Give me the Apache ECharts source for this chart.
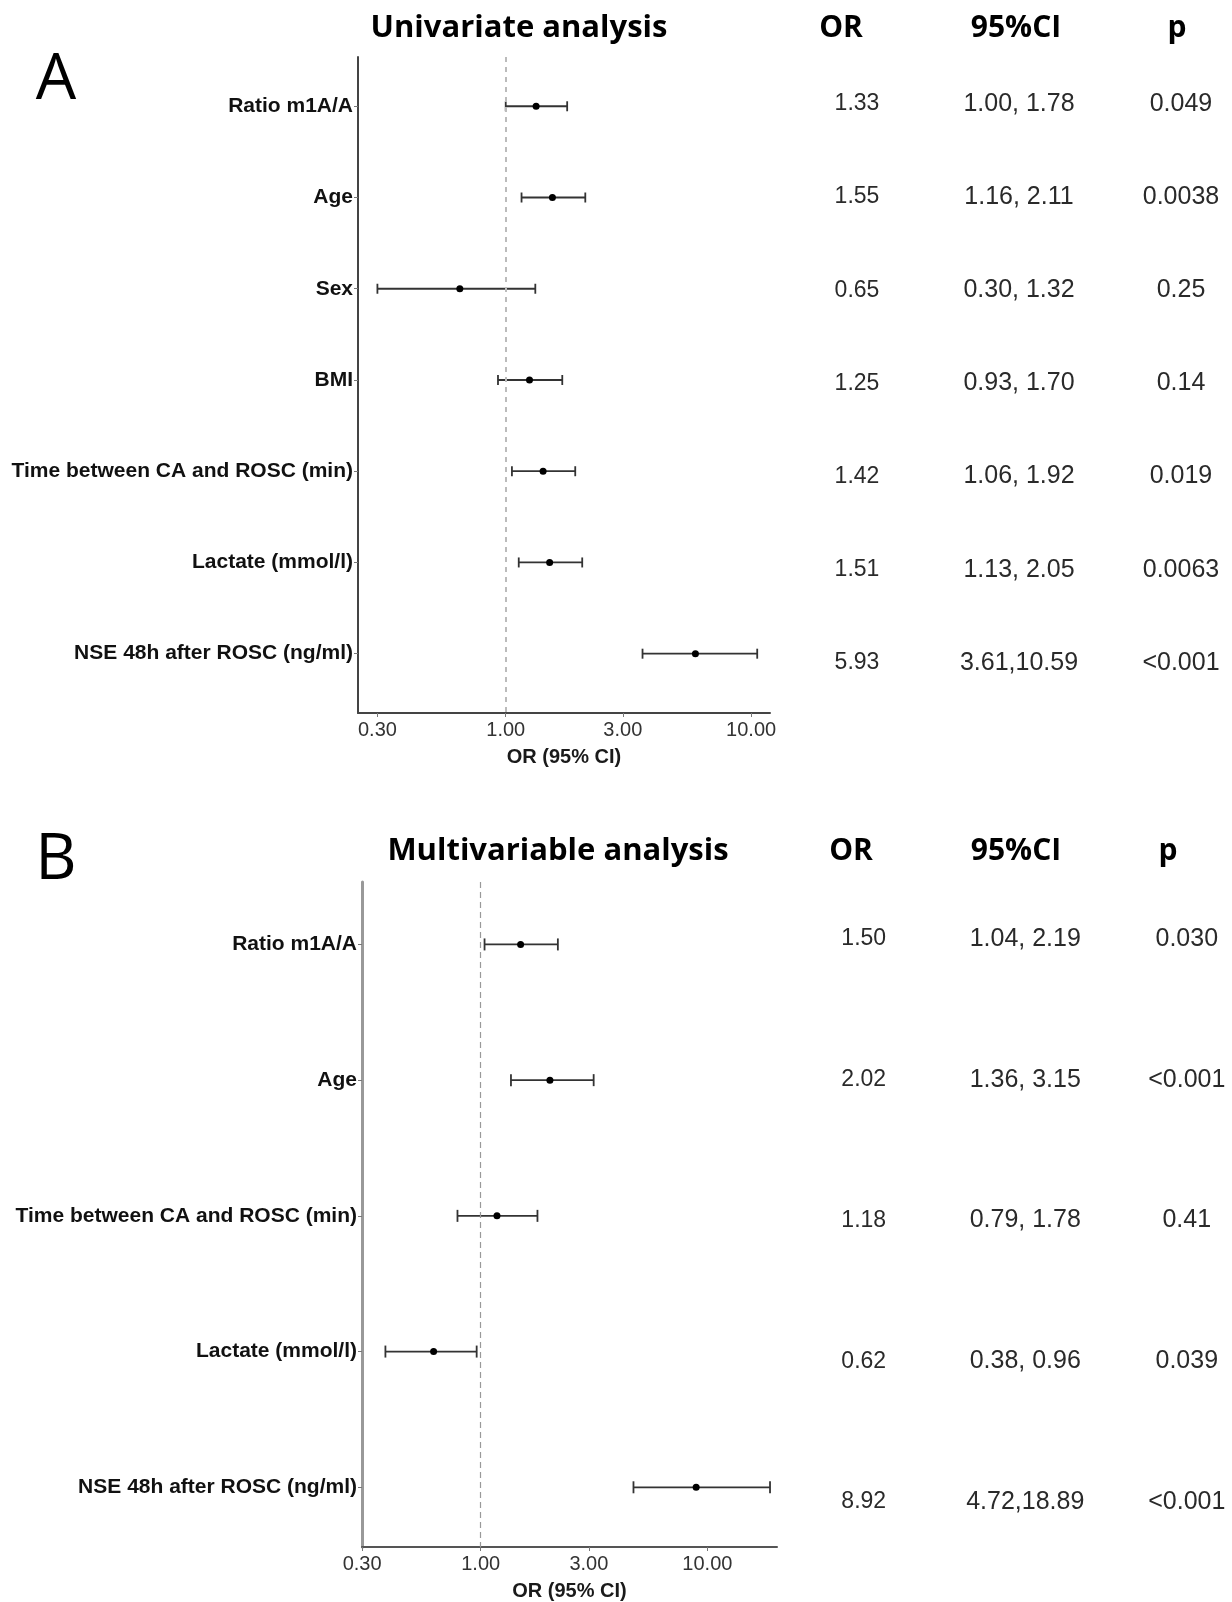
<!DOCTYPE html>
<html><head><meta charset="utf-8">
<script src="https://cdn.jsdelivr.net/npm/echarts@6/dist/echarts.min.js"></script>
<style>html,body{margin:0;padding:0;background:#fff}#c{width:1232px;height:1602px}</style>
</head><body><div id="c"></div>
<script>
// ---------- Panel A: univariate ----------
const labelsA = ['Ratio m1A/A','Age','Sex','BMI','Time between CA and ROSC (min)','Lactate (mmol/l)','NSE 48h after ROSC (ng/ml)'];
const orA = [1.33, 1.55, 0.65, 1.25, 1.42, 1.51, 5.93];
const loA = [1.00, 1.16, 0.30, 0.93, 1.06, 1.13, 3.61];
const hiA = [1.78, 2.11, 1.32, 1.70, 1.92, 2.05, 10.59];
const ciTextA = ['1.00, 1.78','1.16, 2.11','0.30, 1.32','0.93, 1.70','1.06, 1.92','1.13, 2.05','3.61,10.59'];
const pA = ['0.049','0.0038','0.25','0.14','0.019','0.0063','<0.001'];

// ---------- Panel B: multivariable ----------
const labelsB = ['Ratio m1A/A','Age','Time between CA and ROSC (min)','Lactate (mmol/l)','NSE 48h after ROSC (ng/ml)'];
const orB = [1.50, 2.02, 1.18, 0.62, 8.92];
const loB = [1.04, 1.36, 0.79, 0.38, 4.72];
const hiB = [2.19, 3.15, 1.78, 0.96, 18.89];
const ciTextB = ['1.04, 2.19','1.36, 3.15','0.79, 1.78','0.38, 0.96','4.72,18.89'];
const pB = ['0.030','<0.001','0.41','0.039','<0.001'];

const xTickValues = [0.30, 1.00, 3.00, 10.00];
const tableCols = ['OR','95%CI','p'];

const L10 = Math.log10;
const ARIAL = '"Liberation Sans", Arial, sans-serif';
const TITLEF = '"Open Sans", "Noto Sans", sans-serif';
const COL_FONT = [23, 25, 25];

function forestData(orv, lo, hi) {
  return orv.map((v, i) => [i + 1, L10(v), L10(lo[i]), L10(hi[i])]);
}
function forestItem(capH, r, color, lw) {
  return function (params, api) {
    const y = api.value(0);
    const p = api.coord([api.value(1), y]);
    const l = api.coord([api.value(2), y]);
    const h = api.coord([api.value(3), y]);
    const st = { stroke: color, lineWidth: lw };
    return { type: 'group', children: [
      { type: 'line', shape: { x1: l[0], y1: l[1], x2: h[0], y2: h[1] }, style: st },
      { type: 'line', shape: { x1: l[0], y1: l[1] - capH, x2: l[0], y2: l[1] + capH }, style: st },
      { type: 'line', shape: { x1: h[0], y1: h[1] - capH, x2: h[0], y2: h[1] + capH }, style: st },
      { type: 'circle', shape: { cx: p[0], cy: p[1], r: r }, style: { fill: '#000' } }
    ]};
  };
}
function tableRows(orv, ciText, pv) {
  const rows = [];
  orv.forEach((v, i) => {
    rows.push({ col: 0, row: i + 1, text: v.toFixed(2) });
    rows.push({ col: 1, row: i + 1, text: ciText[i] });
    rows.push({ col: 2, row: i + 1, text: pv[i] });
  });
  return rows;
}
const tabA = tableRows(orA, ciTextA, pA);
const tabB = tableRows(orB, ciTextB, pB);
function tableItem(rows) {
  return function (params, api) {
    const d = rows[params.dataIndex];
    const c = api.coord([api.value(0), api.value(1)]);
    return { type: 'text', x: c[0], y: c[1], style: {
      text: d.text, fill: '#2a2a2a',
      fontSize: COL_FONT[d.col], fontFamily: ARIAL, align: 'center', verticalAlign: 'middle' } };
  };
}

function xAxisCfg(grid, min, max, lineColor) {
  const cv = xTickValues.map(L10);
  return {
    gridIndex: grid, type: 'value', min: min, max: max,
    name: 'OR (95% CI)', nameLocation: 'middle', nameGap: 34,
    nameTextStyle: { fontSize: 20, fontWeight: 'bold', color: '#1a1a1a', fontFamily: ARIAL },
    axisLine: { show: true, onZero: false, lineStyle: { color: lineColor, width: 2 } },
    axisTick: { show: true, length: 4, customValues: cv, lineStyle: { color: '#777' } },
    axisLabel: { customValues: cv, formatter: v => Math.pow(10, v).toFixed(2), showMinLabel: true, showMaxLabel: true,
      fontSize: 20, color: '#333', fontFamily: ARIAL, margin: 7 },
    splitLine: { show: false }
  };
}
function yAxisCfg(grid, labels, min, max, lineColor, lineWidth) {
  const cv = labels.map((_, i) => i + 1);
  return {
    gridIndex: grid, type: 'value', inverse: true, min: min, max: max,
    axisLine: { show: true, onZero: false, lineStyle: { color: lineColor, width: lineWidth } },
    axisTick: { show: true, length: 4, customValues: cv, lineStyle: { color: '#777' } },
    axisLabel: { customValues: cv, formatter: v => labels[Math.round(v) - 1],
      fontSize: 21, fontWeight: 'bold', color: '#111', fontFamily: ARIAL, margin: 5 },
    splitLine: { show: false }
  };
}
function tableX(grid, max) {
  return { gridIndex: grid, type: 'value', min: -0.5, max: max, show: false, splitLine: { show: false } };
}

const chart = echarts.init(document.getElementById('c'), null, { renderer: 'canvas' });
chart.setOption({
  backgroundColor: '#fff',
  animation: false,
  grid: [
    { left: 358, width: 412, top: 57, height: 656 },
    { left: 776, right: 0, top: 57.4, height: 652 },
    { left: 362, width: 415, top: 882, height: 670 },
    { left: 783, right: 0, top: 868.6, height: 703.75 }
  ],
  xAxis: [
    xAxisCfg(0, -0.602, 1.077, '#444'),
    tableX(1, 2.315),
    xAxisCfg(2, -0.5235, 1.307, '#555'),
    tableX(3, 2.28)
  ],
  yAxis: [
    yAxisCfg(0, labelsA, 0.46, 7.65, '#444', 2),
    { gridIndex: 1, type: 'value', inverse: true, min: 0.5, max: 7.5, show: false, splitLine: { show: false } },
    yAxisCfg(2, labelsB, 0.54, 5.44, '#999', 3),
    { gridIndex: 3, type: 'value', inverse: true, min: 0.5, max: 5.5, show: false, splitLine: { show: false } }
  ],
  series: [
    { type: 'custom', xAxisIndex: 0, yAxisIndex: 0, data: forestData(orA, loA, hiA),
      encode: { x: [1, 2, 3], y: 0 }, renderItem: forestItem(5, 3.5, '#333', 1.8),
      markLine: { silent: true, symbol: 'none', label: { show: false },
        lineStyle: { type: [5, 5], color: '#bbb', width: 2 }, data: [{ xAxis: 0 }] } },
    { type: 'custom', xAxisIndex: 1, yAxisIndex: 1, data: tabA.map(d => [d.col, d.row]),
      encode: { x: 0, y: 1 }, renderItem: tableItem(tabA) },
    { type: 'custom', xAxisIndex: 2, yAxisIndex: 2, data: forestData(orB, loB, hiB),
      encode: { x: [1, 2, 3], y: 0 }, renderItem: forestItem(6, 3.5, '#333', 1.8),
      markLine: { silent: true, symbol: 'none', label: { show: false },
        lineStyle: { type: [6, 4], color: '#999', width: 1.2 }, data: [{ xAxis: 0 }] } },
    { type: 'custom', xAxisIndex: 3, yAxisIndex: 3, data: tabB.map(d => [d.col, d.row]),
      encode: { x: 0, y: 1 }, renderItem: tableItem(tabB) }
  ],
  graphic: [
    { type: 'text', x: 56, y: 81, style: { text: 'A', fontSize: 64, fontFamily: TITLEF, fill: '#000', align: 'center', verticalAlign: 'middle' } },
    { type: 'text', x: 519, y: 28, style: { text: 'Univariate analysis', fontSize: 31, fontWeight: 'bold', fontFamily: TITLEF, fill: '#000', align: 'center', verticalAlign: 'middle' } },
    { type: 'text', x: 841, y: 28, style: { text: 'OR', fontSize: 30, fontWeight: 'bold', fontFamily: TITLEF, fill: '#000', align: 'center', verticalAlign: 'middle' } },
    { type: 'text', x: 1016, y: 28, style: { text: '95%CI', fontSize: 30, fontWeight: 'bold', fontFamily: TITLEF, fill: '#000', align: 'center', verticalAlign: 'middle' } },
    { type: 'text', x: 1177, y: 28, style: { text: 'p', fontSize: 30, fontWeight: 'bold', fontFamily: TITLEF, fill: '#000', align: 'center', verticalAlign: 'middle' } },
    { type: 'text', x: 56, y: 861, style: { text: 'B', fontSize: 64, fontFamily: TITLEF, fill: '#000', align: 'center', verticalAlign: 'middle' } },
    { type: 'text', x: 558, y: 851, style: { text: 'Multivariable analysis', fontSize: 31, fontWeight: 'bold', fontFamily: TITLEF, fill: '#000', align: 'center', verticalAlign: 'middle' } },
    { type: 'text', x: 851, y: 851, style: { text: 'OR', fontSize: 30, fontWeight: 'bold', fontFamily: TITLEF, fill: '#000', align: 'center', verticalAlign: 'middle' } },
    { type: 'text', x: 1016, y: 851, style: { text: '95%CI', fontSize: 30, fontWeight: 'bold', fontFamily: TITLEF, fill: '#000', align: 'center', verticalAlign: 'middle' } },
    { type: 'text', x: 1168, y: 851, style: { text: 'p', fontSize: 30, fontWeight: 'bold', fontFamily: TITLEF, fill: '#000', align: 'center', verticalAlign: 'middle' } }
  ]
});
</script>
</body></html>
